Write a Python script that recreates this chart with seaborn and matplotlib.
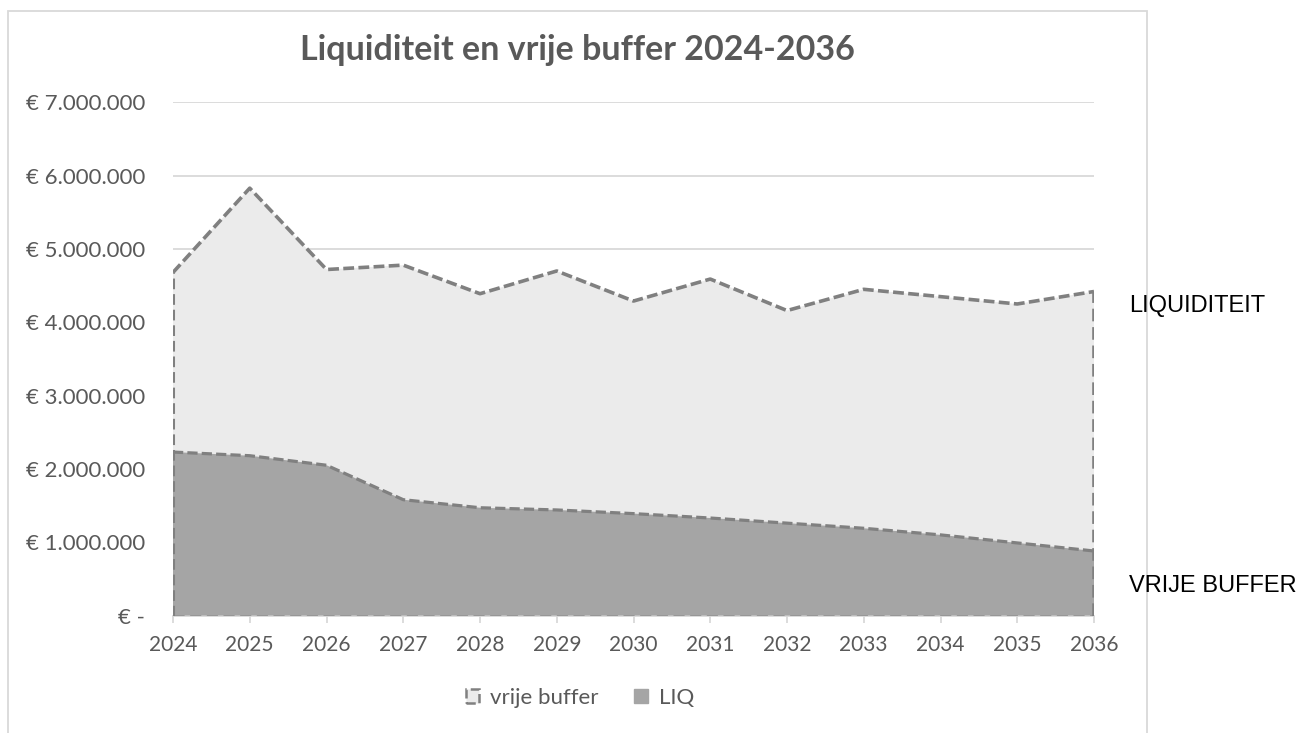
import numpy as np
import matplotlib
matplotlib.use("Agg")
import matplotlib.pyplot as plt
from matplotlib.patches import Patch, Rectangle
from matplotlib.ticker import FuncFormatter
import seaborn as sns

# Data
years = [2024, 2025, 2026, 2027, 2028, 2029, 2030, 2031, 2032, 2033, 2034, 2035, 2036]
vrije_buffer = [4680000, 5830000, 4720000, 4780000, 4390000, 4700000, 4290000,
                4590000, 4160000, 4450000, 4350000, 4250000, 4420000]
liq = [2230000, 2180000, 2050000, 1580000, 1470000, 1440000, 1390000,
       1330000, 1260000, 1190000, 1100000, 990000, 880000]
y_ticks = [0, 1000000, 2000000, 3000000, 4000000, 5000000, 6000000, 7000000]

sns.set_style("white")
plt.rcParams['font.family'] = ['Lato', 'DejaVu Sans']

W, H = 1316, 733
fig = plt.figure(figsize=(W / 100, H / 100), dpi=100)
ax = fig.add_axes([173 / W, 1 - 615.5 / H, (1094 - 173) / W, (615.5 - 102.4) / H])

light = '#EBEBEB'
dark = '#A5A5A5'
edge = '#808080'
txt = '#595959'
grid = '#D9D9D9'

# light area (vrije buffer), outline drawn separately
ax.fill_between(years, 0, vrije_buffer, facecolor=light, edgecolor='none', zorder=2)
sides = (0, (3.5, 1.6))
ax.plot([years[0], years[0]], [0, vrije_buffer[0]], color=edge, lw=2.2,
        linestyle=sides, zorder=6)
ax.plot([years[-1], years[-1]], [0, vrije_buffer[-1]], color=edge, lw=2.6,
        linestyle=sides, zorder=6)
ax.plot([years[0], years[-1]], [0, 0], color=edge, lw=2.0,
        linestyle=(0, (4, 2)), zorder=6, alpha=0.7)

# dark area (LIQ)
ax.fill_between(years, 0, liq, facecolor=dark, edgecolor='none', zorder=4)

# dashed top lines through seaborn
sns.lineplot(x=years, y=vrije_buffer, ax=ax, color=edge, linewidth=2.6, zorder=5)
sns.lineplot(x=years, y=liq, ax=ax, color=edge, linewidth=2.3, zorder=5)
ax.lines[-2].set_linestyle((0, (3.0, 1.2)))
ax.lines[-1].set_linestyle((0, (3.2, 1.3)))

ax.set_xlim(years[0], years[-1])
ax.set_ylim(0, 7000000)
ax.set_xticks(years)
ax.set_yticks(y_ticks)


def euro(v, pos):
    if v == 0:
        return '€ -'
    return '€ ' + f'{int(v):,}'.replace(',', '.')


ax.yaxis.set_major_formatter(FuncFormatter(euro))
ax.grid(axis='y', color=grid, linewidth=1.3, zorder=0)
ax.set_axisbelow(True)
for side in ['top', 'right', 'left']:
    ax.spines[side].set_visible(False)
ax.spines['bottom'].set_color(grid)
ax.spines['bottom'].set_linewidth(1.3)
ax.tick_params(axis='y', length=0, pad=20, labelsize=16, labelcolor=txt)
ax.tick_params(axis='x', length=5, width=1.3, color=grid, pad=9,
               labelsize=15, labelcolor=txt, bottom=True)
ax.set_xlabel('')
ax.set_ylabel('')
ax.patch.set_alpha(0)

# chart frame
fig.patches.append(Rectangle((8 / W, -0.05), (1147 - 8) / W, 1 - 11 / H + 0.05,
                             transform=fig.transFigure, fill=False,
                             edgecolor=grid, linewidth=1.3, zorder=0))

fig.text(577.5 / W, 1 - 50 / H, 'Liquiditeit en vrije buffer 2024-2036',
         ha='center', va='center', fontsize=24.5, fontweight='bold', color=txt)

handles = [Patch(facecolor=light, edgecolor=edge, linestyle='--', linewidth=1.8),
           Patch(facecolor=dark, edgecolor=dark)]
fig.legend(handles, ['vrije buffer', 'LIQ'], loc='center',
           bbox_to_anchor=(580 / W, 1 - 698 / H), ncol=2, frameon=False,
           fontsize=16, labelcolor=txt, handlelength=0.6, handleheight=0.6,
           handletextpad=0.5, columnspacing=1.6)

fig.text(1129 / W, 1 - 306 / H, 'LIQUIDITEIT', ha='left', va='center',
         fontsize=17, color='black', family='Liberation Sans')
fig.text(1129 / W, 1 - 586 / H, 'VRIJE BUFFER', ha='left', va='center',
         fontsize=17, color='black', family='Liberation Sans')

fig.savefig('out.png', dpi=100, facecolor='white')
